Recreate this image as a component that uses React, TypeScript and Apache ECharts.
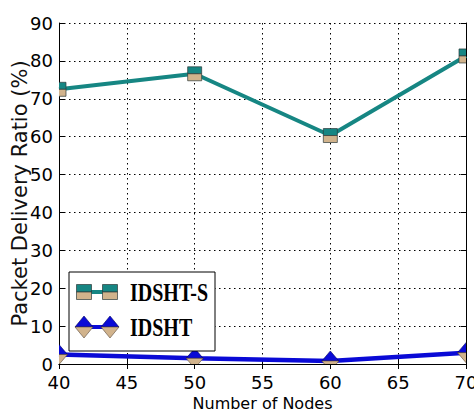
import React, { useEffect, useRef } from "react";
import * as echarts from "echarts";

// ---- data ----
const nodes = [40, 50, 60, 70];
const idshtS = [72.5, 76.6, 60.3, 81.3];
const idsht = [2.5, 1.5, 0.8, 3.0];
const seriesNames = ["IDSHT-S", "IDSHT"];
const xMin = 40;
const xMax = 70;
const xStep = 5;
const yMin = 0;
const yMax = 90;
const yStep = 10;

const TEAL = "#168683";
const TAN = "#d1b38c";
const BLUE = "#0a0ad6";
const EDGE = "#2c3a3a";

const squareItem = (params: any, api: any) => {
  const p = api.coord([api.value(0), api.value(1)]);
  const h = 7;
  return {
    type: "group",
    children: [
      { type: "rect", shape: { x: p[0] - h, y: p[1] - h, width: 2 * h, height: h }, style: { fill: TEAL, stroke: EDGE, lineWidth: 0.7 } },
      { type: "rect", shape: { x: p[0] - h, y: p[1], width: 2 * h, height: h }, style: { fill: TAN, stroke: EDGE, lineWidth: 0.7 } },
    ],
  };
};

const diamondItem = (params: any, api: any) => {
  const p = api.coord([api.value(0), api.value(1)]);
  const w = 8.5;
  const h = 10;
  return {
    type: "group",
    children: [
      { type: "polygon", shape: { points: [[p[0] - w, p[1]], [p[0], p[1] - h], [p[0] + w, p[1]]] }, style: { fill: BLUE, stroke: "#000060", lineWidth: 0.6 } },
      { type: "polygon", shape: { points: [[p[0] - w, p[1]], [p[0] + w, p[1]], [p[0], p[1] + h]] }, style: { fill: TAN, stroke: "#5a4a3a", lineWidth: 0.6 } },
    ],
  };
};

function legendGraphic() {
  const bx = 69, by = 272, bw = 146, bh = 79;
  const r1 = 292, r2 = 327;
  const m1 = 84, m2 = 110;
  const textX = 130;
  const sq = (cx: number, cy: number) => [
    { type: "rect", shape: { x: cx - 7.5, y: cy - 7.5, width: 15, height: 7.5 }, style: { fill: TEAL, stroke: EDGE, lineWidth: 0.7 } },
    { type: "rect", shape: { x: cx - 7.5, y: cy, width: 15, height: 7.5 }, style: { fill: TAN, stroke: EDGE, lineWidth: 0.7 } },
  ];
  const dm = (cx: number, cy: number) => [
    { type: "polygon", shape: { points: [[cx - 9, cy], [cx, cy - 11], [cx + 9, cy]] }, style: { fill: BLUE, stroke: "#000060", lineWidth: 0.6 } },
    { type: "polygon", shape: { points: [[cx - 9, cy], [cx + 9, cy], [cx, cy + 11]] }, style: { fill: TAN, stroke: "#5a4a3a", lineWidth: 0.6 } },
  ];
  return [
    { type: "rect", shape: { x: bx, y: by, width: bw, height: bh }, style: { fill: "#fff", stroke: "#000", lineWidth: 1 }, z: 10 },
    { type: "line", shape: { x1: m1, y1: r1, x2: m2, y2: r1 }, style: { stroke: TEAL, lineWidth: 4 }, z: 11 },
    ...sq(m1, r1).map((e) => ({ ...e, z: 12 })),
    ...sq(m2, r1).map((e) => ({ ...e, z: 12 })),
    { type: "line", shape: { x1: m1, y1: r2, x2: m2, y2: r2 }, style: { stroke: BLUE, lineWidth: 4 }, z: 11 },
    ...dm(m1, r2).map((e) => ({ ...e, z: 12 })),
    ...dm(m2, r2).map((e) => ({ ...e, z: 12 })),
    { type: "text", x: textX, y: r1 + 1, scaleY: 1.25, style: { text: seriesNames[0], x: 0, y: 0, fill: "#000", font: 'bold 20px "Liberation Serif"', verticalAlign: "middle", align: "left" }, z: 12 },
    { type: "text", x: textX, y: r2 + 1, scaleY: 1.25, style: { text: seriesNames[1], x: 0, y: 0, fill: "#000", font: 'bold 20px "Liberation Serif"', verticalAlign: "middle", align: "left" }, z: 12 },
  ];
}

export default function App() {
  const ref = useRef<HTMLDivElement>(null);
  useEffect(() => {
    if (!ref.current) return;
    const chart = echarts.init(ref.current, undefined, { renderer: "svg" });
    const dotted = { type: [1.5, 3.5] as any, color: "#000", width: 1 };
    const labelFont = { fontFamily: "DejaVu Sans", fontSize: 18, color: "#000" };
    const option: any = {
      animation: false,
      backgroundColor: "#fff",
      grid: { left: 59, right: 8, top: 23, bottom: 53, containLabel: false, outerBoundsMode: "none" },
      xAxis: [
        {
          type: "value", min: xMin, max: xMax, interval: xStep, position: "bottom",
          axisLine: { show: true, lineStyle: { color: "#000", width: 1 } },
          axisTick: { show: true, inside: true, length: 5, lineStyle: { color: "#000" } },
          axisLabel: { ...labelFont, margin: 9 },
          splitLine: { show: true, lineStyle: dotted },
          name: "Number of Nodes", nameLocation: "middle", nameGap: 30,
          nameTextStyle: { fontFamily: "DejaVu Sans", fontSize: 16, color: "#000" },
        },
        {
          type: "value", min: xMin, max: xMax, interval: xStep, position: "top",
          axisLine: { show: true, lineStyle: { color: "#000", width: 1 } },
          axisTick: { show: true, inside: true, length: 5, lineStyle: { color: "#000" } },
          axisLabel: { show: false }, splitLine: { show: false },
        },
      ],
      yAxis: [
        {
          type: "value", min: yMin, max: yMax, interval: yStep, position: "left",
          axisLine: { show: true, lineStyle: { color: "#000", width: 1 } },
          axisTick: { show: true, inside: true, length: 5, lineStyle: { color: "#000" } },
          axisLabel: { ...labelFont, margin: 6 },
          splitLine: { show: true, lineStyle: dotted },
          name: "Packet Delivery Ratio (%)", nameLocation: "middle", nameGap: 29,
          nameMoveOverlap: false,
          nameTextStyle: { fontFamily: "DejaVu Sans", fontSize: 21, color: "#111" },
        },
        {
          type: "value", min: yMin, max: yMax, interval: yStep, position: "right",
          axisLine: { show: true, lineStyle: { color: "#000", width: 1 } },
          axisTick: { show: true, inside: true, length: 5, lineStyle: { color: "#000" } },
          axisLabel: { show: false }, splitLine: { show: false },
        },
      ],
      series: [
        {
          name: seriesNames[0], type: "line", xAxisIndex: 0, yAxisIndex: 0,
          data: nodes.map((n, i) => [n, idshtS[i]]), symbol: "none", clip: true,
          lineStyle: { color: TEAL, width: 4 }, z: 3,
        },
        {
          name: seriesNames[1], type: "line", xAxisIndex: 0, yAxisIndex: 0,
          data: nodes.map((n, i) => [n, idsht[i]]), symbol: "none", clip: true,
          lineStyle: { color: BLUE, width: 4.5 }, z: 3,
        },
        {
          name: seriesNames[0] + " markers", type: "custom", xAxisIndex: 0, yAxisIndex: 0,
          data: nodes.map((n, i) => [n, idshtS[i]]), renderItem: squareItem, clip: true, z: 4,
          encode: { x: 0, y: 1 },
        },
        {
          name: seriesNames[1] + " markers", type: "custom", xAxisIndex: 0, yAxisIndex: 0,
          data: nodes.map((n, i) => [n, idsht[i]]), renderItem: diamondItem, clip: true, z: 4,
          encode: { x: 0, y: 1 },
        },
      ],
      graphic: legendGraphic(),
    };
    chart.setOption(option);
    return () => chart.dispose();
  }, []);
  return (
    <div
      ref={ref}
      style={{ position: "fixed", left: 0, top: 0, width: 474, height: 417, background: "#fff" }}
    />
  );
}
